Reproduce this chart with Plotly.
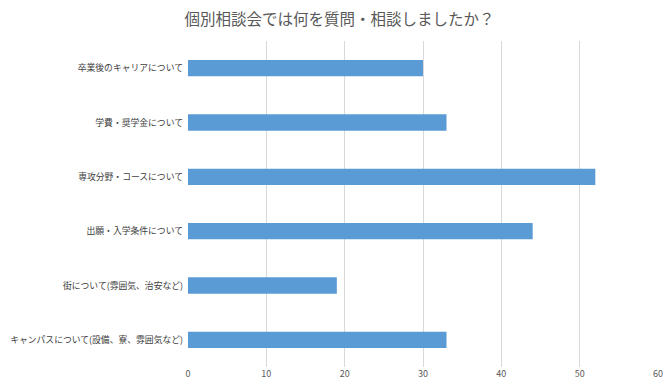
import plotly.graph_objects as go

categories = [
    "卒業後のキャリアについて",
    "学費・奨学金について",
    "専攻分野・コースについて",
    "出願・入学条件について",
    "街について(雰囲気、治安など)",
    "キャンパスについて(設備、寮、雰囲気など)",
]
values = [30, 33, 52, 44, 19, 33]
x_ticks = [0, 10, 20, 30, 40, 50, 60]

font_family = "Noto Sans CJK JP, Noto Sans, sans-serif"

fig = go.Figure(go.Bar(
    x=values, y=categories, orientation="h",
    marker=dict(color="#5B9BD5", line=dict(width=0)),
    width=0.3,
))

# page body has an 8px default margin, so the figure is sized/offset accordingly
fig.update_layout(
    width=663, height=383,
    margin=dict(l=180, r=13, t=33, b=24),
    paper_bgcolor="white", plot_bgcolor="white",
    title=dict(text="個別相談会では何を質問・相談しましたか？", x=0.5, xanchor="center",
               y=0.971, yanchor="middle",
               font=dict(family=font_family, size=15.5, color="#595959")),
    showlegend=False,
    font=dict(family=font_family, color="#595959", size=9),
    xaxis=dict(range=[0, 60], tickvals=x_ticks, showgrid=True, gridcolor="#D9D9D9",
               gridwidth=1, zeroline=False, showline=False, ticks="",
               automargin=False,
               tickfont=dict(size=9, color="#595959"), fixedrange=True),
    yaxis=dict(autorange="reversed", showgrid=False, zeroline=False, showline=False,
               ticks="", ticklabelstandoff=4, automargin=False,
               tickfont=dict(size=8.8, color="#404040"), fixedrange=True),
)

fig.write_html("out.html")
